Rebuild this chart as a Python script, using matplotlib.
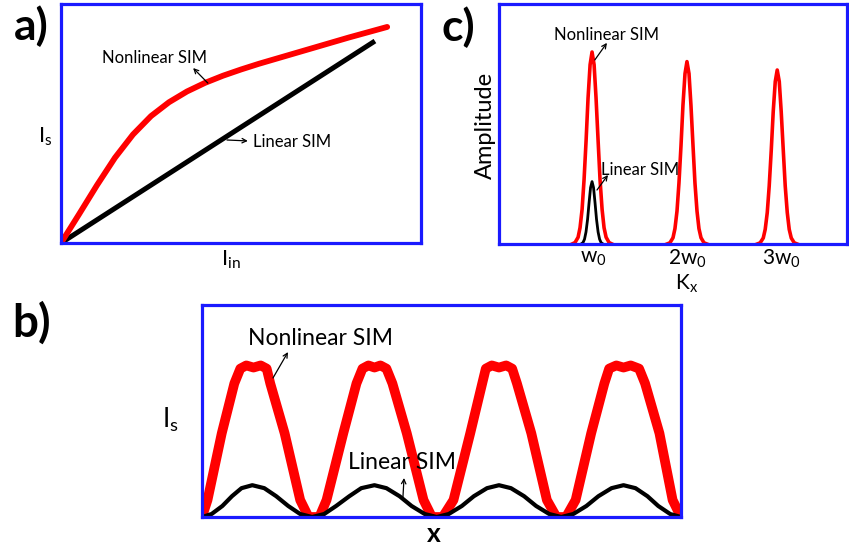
import matplotlib
matplotlib.use("Agg")
import matplotlib.pyplot as plt

plt.rcParams['font.family'] = ['Lato', 'DejaVu Sans']
plt.rcParams['mathtext.fontset'] = 'custom'
plt.rcParams['mathtext.rm'] = 'Lato'
plt.rcParams['mathtext.it'] = 'Lato:italic'
plt.rcParams['mathtext.bf'] = 'Lato:bold'

# ---------------- data ----------------
# panel a: output intensity vs input intensity
a_lin_x = [0.0, 0.872]
a_lin_y = [0.0, 0.845]
a_nl_x = [0.0, 0.025, 0.05, 0.10, 0.15, 0.20, 0.25, 0.30, 0.35, 0.40, 0.45,
          0.50, 0.55, 0.60, 0.70, 0.80, 0.906]
a_nl_y = [0.0, 0.060, 0.120, 0.242, 0.357, 0.454, 0.531, 0.589, 0.634, 0.670, 0.700,
          0.726, 0.750, 0.772, 0.816, 0.860, 0.904]

# panel b: intensity profile along x
b_lin_x = [0.0, 0.08, 0.17, 0.25, 0.33, 0.42, 0.52, 0.62, 0.72, 0.82, 0.92,
           1.02, 1.12, 1.23, 1.33, 1.44, 1.54, 1.65, 1.75, 1.86, 1.96,
           2.06, 2.17, 2.27, 2.38, 2.48, 2.58, 2.69, 2.79, 2.90, 3.00,
           3.10, 3.21, 3.31, 3.42, 3.52, 3.62, 3.72, 3.81, 3.91, 4.00]
b_lin_y = [0.0, 0.014, 0.052, 0.098, 0.136, 0.150, 0.136, 0.098, 0.052, 0.014, 0.0,
           0.014, 0.052, 0.098, 0.136, 0.150, 0.136, 0.098, 0.052, 0.014, 0.0,
           0.014, 0.052, 0.098, 0.136, 0.150, 0.136, 0.098, 0.052, 0.014, 0.0,
           0.014, 0.052, 0.098, 0.136, 0.150, 0.136, 0.098, 0.052, 0.014, 0.0]
b_nl_x = [0.00, 0.046, 0.165, 0.27, 0.32, 0.37, 0.43, 0.49, 0.54, 0.57, 0.69, 0.82, 0.89,
          0.98, 1.04, 1.18, 1.29, 1.34, 1.39, 1.44, 1.49, 1.54, 1.59, 1.71, 1.85, 1.92,
          2.01, 2.10, 2.24, 2.34, 2.37, 2.42, 2.48, 2.54, 2.59, 2.63, 2.75, 2.88, 2.96,
          3.04, 3.12, 3.25, 3.36, 3.40, 3.46, 3.52, 3.58, 3.65, 3.70, 3.82, 3.93, 4.00]
b_nl_y = [0.0, 0.08, 0.395, 0.63, 0.70, 0.715, 0.705, 0.715, 0.70, 0.63, 0.395, 0.08, 0.0,
          0.0, 0.08, 0.395, 0.63, 0.70, 0.715, 0.705, 0.715, 0.70, 0.63, 0.395, 0.08, 0.0,
          0.0, 0.08, 0.395, 0.63, 0.70, 0.715, 0.705, 0.715, 0.70, 0.63, 0.395, 0.08, 0.0,
          0.0, 0.08, 0.395, 0.63, 0.70, 0.715, 0.705, 0.715, 0.70, 0.63, 0.395, 0.08, 0.0]

# panel c: Fourier amplitude spectrum
c_nl1_x = [0.775, 0.807, 0.840, 0.861, 0.883, 0.904, 0.926, 0.947, 0.969, 0.99,
           1.012, 1.033, 1.055, 1.076, 1.098, 1.119, 1.141, 1.173, 1.205]
c_nl1_y = [0.0, 0.006, 0.028, 0.068, 0.144, 0.267, 0.431, 0.608, 0.747, 0.80,
           0.747, 0.608, 0.431, 0.267, 0.144, 0.068, 0.028, 0.006, 0.0]
c_nl2_x = [1.795, 1.827, 1.860, 1.881, 1.903, 1.924, 1.946, 1.967, 1.989, 2.01,
           2.032, 2.053, 2.075, 2.096, 2.118, 2.139, 2.161, 2.193, 2.225]
c_nl2_y = [0.0, 0.005, 0.026, 0.064, 0.137, 0.254, 0.410, 0.578, 0.710, 0.76,
           0.710, 0.578, 0.410, 0.254, 0.137, 0.064, 0.026, 0.005, 0.0]
c_nl3_x = [2.765, 2.797, 2.830, 2.851, 2.873, 2.894, 2.916, 2.937, 2.959, 2.98,
           3.002, 3.023, 3.045, 3.066, 3.088, 3.109, 3.131, 3.163, 3.195]
c_nl3_y = [0.0, 0.005, 0.025, 0.061, 0.131, 0.242, 0.391, 0.551, 0.677, 0.725,
           0.677, 0.551, 0.391, 0.242, 0.131, 0.061, 0.025, 0.005, 0.0]
c_lin_x = [0.872, 0.893, 0.909, 0.925, 0.942, 0.958, 0.974, 0.99,
           1.006, 1.022, 1.038, 1.055, 1.071, 1.087, 1.108]
c_lin_y = [0.0, 0.006, 0.020, 0.050, 0.103, 0.172, 0.235, 0.26,
           0.235, 0.172, 0.103, 0.050, 0.020, 0.006, 0.0]
c_tick_pos = [1.0, 2.02, 3.02]
c_tick_labels = [r'$\mathrm{w_0}$', r'$\mathrm{2w_0}$', r'$\mathrm{3w_0}$']

label_nl = 'Nonlinear SIM'
label_lin = 'Linear SIM'

# ---------------- figure ----------------
W, H = 849, 548
fig = plt.figure(figsize=(W / 100, H / 100), dpi=100)


def frac(x, y):
    return x / W, 1 - y / H


def box(l, t, r, b):
    return [l / W, 1 - b / H, (r - l) / W, (b - t) / H]


BLUE = '#1a1aff'
RED = '#ff0000'


def style(ax):
    for s in ax.spines.values():
        s.set_color(BLUE)
        s.set_linewidth(2.3)
    ax.set_xticks([])
    ax.set_yticks([])


arrow = dict(arrowstyle='->', color='black', lw=0.9, shrinkA=0, shrinkB=0,
             mutation_scale=8)

# panel a
axa = fig.add_axes(box(61, 4, 421, 243))
style(axa)
axa.set_xlim(0, 1)
axa.set_ylim(0, 1)
axa.plot(a_lin_x, a_lin_y, color='black', lw=3.6, solid_capstyle='butt')
axa.plot(a_nl_x, a_nl_y, color=RED, lw=4.2, solid_capstyle='round',
         solid_joinstyle='round')
axa.text(0.261, 0.774, label_nl, ha='center', va='center', fontsize=12)
axa.annotate('', xy=(0.367, 0.732), xytext=(0.408, 0.669), arrowprops=arrow)
axa.text(0.642, 0.423, label_lin, ha='center', va='center', fontsize=12)
axa.annotate('', xy=(0.519, 0.427), xytext=(0.461, 0.431), arrowprops=arrow)

# panel c
axc = fig.add_axes(box(499, 4, 847, 244))
style(axc)
axc.set_xlim(-0.01, 3.73)
axc.set_ylim(0, 1)
for xs, ys in [(c_nl1_x, c_nl1_y), (c_nl2_x, c_nl2_y), (c_nl3_x, c_nl3_y)]:
    axc.plot(xs, ys, color=RED, lw=2.6, solid_joinstyle='round')
axc.plot(c_lin_x, c_lin_y, color='black', lw=2.0, solid_joinstyle='round')
axc.set_xticks(c_tick_pos)
axc.set_xticklabels(c_tick_labels, fontsize=15)
axc.tick_params(axis='x', length=0, pad=3)
axc.text(1.15, 0.871, label_nl, ha='center', va='center', fontsize=12)
axc.annotate('', xy=(1.15, 0.838), xytext=(1.02, 0.767), arrowprops=arrow)
axc.text(1.505, 0.308, label_lin, ha='center', va='center', fontsize=12)
axc.annotate('', xy=(1.161, 0.2875), xytext=(1.043, 0.225), arrowprops=arrow)

# panel b
axb = fig.add_axes(box(202, 305, 681, 517))
style(axb)
axb.set_xlim(0, 4)
axb.set_ylim(0, 1)
axb.plot(b_nl_x, b_nl_y, color=RED, lw=7.0, solid_joinstyle='round')
axb.plot(b_lin_x, b_lin_y, color='black', lw=3.0, solid_joinstyle='round')
axb.text(0.99, 0.84, label_nl, ha='center', va='center', fontsize=16.5)
axb.annotate('', xy=(0.718, 0.778), xytext=(0.593, 0.656), arrowprops=arrow)
axb.text(1.67, 0.255, label_lin, ha='center', va='center', fontsize=16.5)
axb.annotate('', xy=(1.687, 0.184), xytext=(1.678, 0.094), arrowprops=arrow)

# figure-level labels
fig.text(*frac(31, 26), 'a)', fontsize=32, fontweight='bold', ha='center', va='center')
fig.text(*frac(32, 323), 'b)', fontsize=33, fontweight='bold', ha='center', va='center')
fig.text(*frac(458, 27), 'c)', fontsize=32, fontweight='bold', ha='center', va='center')
fig.text(*frac(45, 137), r'$\mathrm{I_s}$', fontsize=16, ha='center', va='center')
fig.text(*frac(231, 260), r'$\mathrm{I_{in}}$', fontsize=16, ha='center', va='center')
fig.text(*frac(170, 420), r'$\mathrm{I_s}$', fontsize=19, ha='center', va='center')
fig.text(*frac(434, 534), 'x', fontsize=19, fontweight='bold', ha='center', va='center')
fig.text(*frac(485, 125), 'Amplitude', fontsize=17, rotation=90, ha='center', va='center')
fig.text(*frac(687, 284), r'$\mathrm{K_x}$', fontsize=15, ha='center', va='center')

fig.savefig('out.png', dpi=100)
